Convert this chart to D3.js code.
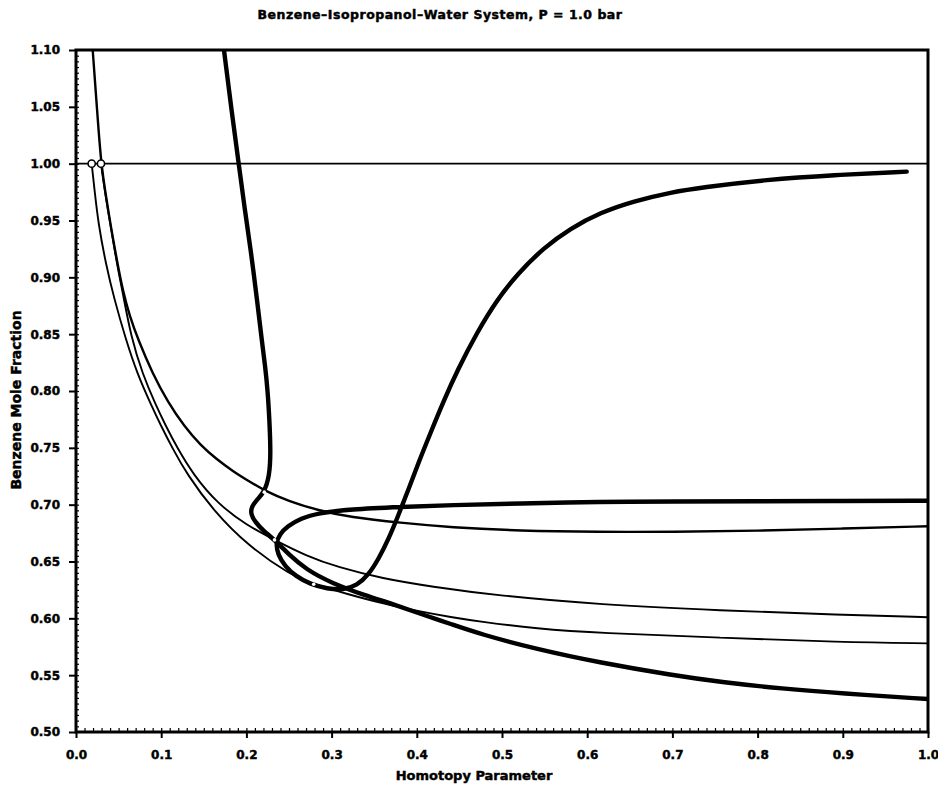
<!DOCTYPE html>
<html>
<head>
<meta charset="utf-8">
<script src="https://cdn.jsdelivr.net/npm/d3@7/dist/d3.min.js"></script>
<style>
  body { margin: 0; background: #fff; }
  svg { display: block; }
  text { font-family: "DejaVu Sans", "Liberation Sans", Arial, sans-serif; font-weight: bold; fill: #000; stroke: #000; stroke-width: 0.45px; }
</style>
</head>
<body>
<svg id="chart" width="938" height="788"></svg>
<script>
// ---- Text ----
const chartTitle = "Benzene\u2013Isopropanol\u2013Water System, P = 1.0 bar";
const xAxisTitle = "Homotopy Parameter";
const yAxisTitle = "Benzene Mole Fraction";

// ---- Axis ticks ----
const xTickValues = [0.0, 0.1, 0.2, 0.3, 0.4, 0.5, 0.6, 0.7, 0.8, 0.9, 1.0];
const xTickLabels = ["0.0", "0.1", "0.2", "0.3", "0.4", "0.5", "0.6", "0.7", "0.8", "0.9", "1.0"];
const yTickValues = [0.50, 0.55, 0.60, 0.65, 0.70, 0.75, 0.80, 0.85, 0.90, 0.95, 1.00, 1.05, 1.10];
const yTickLabels = ["0.50", "0.55", "0.60", "0.65", "0.70", "0.75", "0.80", "0.85", "0.90", "0.95", "1.00", "1.05", "1.10"];

// ---- Homotopy paths: [homotopy parameter, benzene mole fraction] ----
// pure benzene branch
const pureBenzene = [[0.0, 1.00], [1.0, 1.00]];

// branch entering from above, through the second bifurcation point, ending near 0.68
const branchUpper = [
  [0.0196, 1.10], [0.0245, 1.05], [0.0293, 1.00], [0.0355, 0.970], [0.041, 0.944],
  [0.048, 0.915], [0.055, 0.888], [0.063, 0.866], [0.073, 0.845], [0.090, 0.815],
  [0.108, 0.790], [0.127, 0.769], [0.1465, 0.752], [0.165, 0.740], [0.185, 0.729],
  [0.200, 0.722], [0.222, 0.712], [0.250, 0.703], [0.284, 0.695], [0.322, 0.689],
  [0.381, 0.684], [0.440, 0.680], [0.520, 0.677], [0.615, 0.676], [0.700, 0.676],
  [0.800, 0.677], [0.900, 0.679], [1.000, 0.681]
];

// branch leaving the second bifurcation point, ending near 0.60
const branchInner = [
  [0.0293, 1.00], [0.035, 0.970], [0.041, 0.944], [0.048, 0.912], [0.055, 0.886],
  [0.0645, 0.848], [0.078, 0.815], [0.094, 0.787], [0.105, 0.770], [0.118, 0.751],
  [0.138, 0.726], [0.166, 0.701], [0.200, 0.682], [0.233, 0.669], [0.270, 0.655],
  [0.307, 0.645], [0.360, 0.635], [0.416, 0.628], [0.495, 0.620], [0.615, 0.612],
  [0.756, 0.607], [0.897, 0.603], [1.000, 0.601]
];

// branch leaving the first bifurcation point, ending near 0.58
const branchOuter = [
  [0.0184, 1.00], [0.022, 0.975], [0.0265, 0.946], [0.035, 0.912], [0.0445, 0.882],
  [0.0586, 0.845], [0.072, 0.815], [0.088, 0.788], [0.100, 0.769], [0.113, 0.750],
  [0.130, 0.727], [0.162, 0.694], [0.2016, 0.664], [0.252, 0.638], [0.279, 0.630],
  [0.320, 0.621], [0.360, 0.613], [0.404, 0.606], [0.440, 0.601], [0.475, 0.597],
  [0.540, 0.591], [0.615, 0.587], [0.756, 0.583], [0.897, 0.579], [1.000, 0.578]
];

// steep branch from above, turning at about 0.70 and ending near 0.53
const branchSteep = [
  [0.1737, 1.10], [0.182, 1.05], [0.191, 1.00], [0.198, 0.960], [0.205, 0.925],
  [0.2135, 0.874], [0.218, 0.845], [0.222, 0.822], [0.225, 0.800], [0.227, 0.775],
  [0.2286, 0.745], [0.227, 0.725], [0.221, 0.711], [0.212, 0.704], [0.206, 0.698],
  [0.205, 0.692], [0.210, 0.685], [0.220, 0.677], [0.233, 0.669], [0.250, 0.656],
  [0.270, 0.643], [0.300, 0.631], [0.340, 0.620], [0.370, 0.613], [0.404, 0.604],
  [0.440, 0.595], [0.475, 0.586], [0.540, 0.573], [0.615, 0.561], [0.700, 0.550],
  [0.756, 0.544], [0.830, 0.538], [0.897, 0.534], [1.000, 0.529]
];

// branch from 0.70 at the right, round the turn near 0.23, up towards pure benzene
const branchLoop = [
  [1.000, 0.7035], [0.900, 0.7032], [0.800, 0.7030], [0.700, 0.7028], [0.615, 0.7025],
  [0.520, 0.7010], [0.440, 0.6997], [0.381, 0.698], [0.322, 0.696], [0.284, 0.6926],
  [0.264, 0.688], [0.248, 0.681], [0.239, 0.674], [0.2345, 0.666], [0.237, 0.656],
  [0.245, 0.646], [0.258, 0.637], [0.275, 0.630], [0.295, 0.626], [0.314, 0.625],
  [0.330, 0.629], [0.343, 0.638], [0.355, 0.652], [0.367, 0.670], [0.378, 0.690],
  [0.390, 0.713], [0.402, 0.737], [0.416, 0.763], [0.432, 0.792], [0.4475, 0.818],
  [0.471, 0.852], [0.494, 0.880], [0.518, 0.903], [0.549, 0.926], [0.580, 0.943],
  [0.6155, 0.957], [0.654, 0.967], [0.700, 0.975], [0.733, 0.979], [0.811, 0.986],
  [0.889, 0.990], [0.975, 0.993]
];

// bifurcation points on the pure benzene branch
const bifurcationPoints = [[0.0184, 1.00], [0.0293, 1.00]];
// turning / junction points along the paths
const junctionPoints = [[0.221, 0.711], [0.233, 0.669], [0.279, 0.630]];

// ---- Layout ----
const svg = d3.select("#chart");
const plot = { left: 76, right: 928, top: 50, bottom: 732 };

const x = d3.scaleLinear().domain([0, 1]).range([plot.left, plot.right]);
const y = d3.scaleLinear().domain([0.5, 1.1]).range([plot.bottom, plot.top]);

svg.append("defs").append("clipPath").attr("id", "plot-clip")
  .append("rect")
  .attr("x", plot.left).attr("y", plot.top)
  .attr("width", plot.right - plot.left).attr("height", plot.bottom - plot.top);

// ---- Paths ----
const line = d3.line()
  .x(d => x(d[0]))
  .y(d => y(d[1]))
  .curve(d3.curveBasis);

const paths = [
  { data: pureBenzene, width: 1.6 },
  { data: branchOuter, width: 1.9 },
  { data: branchInner, width: 1.9 },
  { data: branchUpper, width: 2.4 },
  { data: branchSteep, width: 4.4 },
  { data: branchLoop, width: 4.4 }
];

const g = svg.append("g").attr("clip-path", "url(#plot-clip)");
g.selectAll("path.branch")
  .data(paths)
  .join("path")
  .attr("class", "branch")
  .attr("d", d => line(d.data))
  .attr("fill", "none")
  .attr("stroke", "#000")
  .attr("stroke-width", d => d.width)
  .attr("stroke-linejoin", "round")
  .attr("stroke-linecap", "round");

g.selectAll("circle.junction")
  .data(junctionPoints)
  .join("circle")
  .attr("class", "junction")
  .attr("cx", d => x(d[0]))
  .attr("cy", d => y(d[1]))
  .attr("r", 1.8)
  .attr("fill", "#fff");

svg.selectAll("circle.bif")
  .data(bifurcationPoints)
  .join("circle")
  .attr("class", "bif")
  .attr("cx", d => x(d[0]))
  .attr("cy", d => y(d[1]))
  .attr("r", 3.6)
  .attr("fill", "#fff")
  .attr("stroke", "#000")
  .attr("stroke-width", 1.6);

// ---- Axes ----
// minor ticks (inside)
const xMinor = d3.range(0, 101).map(i => i / 100);
const yMinor = d3.range(0, 121).map(i => 0.5 + i * 0.005);

svg.append("g")
  .attr("transform", `translate(0,${plot.bottom})`)
  .call(d3.axisTop(x).tickValues(xMinor).tickSize(4).tickFormat(""))
  .call(a => a.select(".domain").remove())
  .call(a => a.selectAll("line").attr("stroke-width", 1.2));

svg.append("g")
  .attr("transform", `translate(${plot.left},0)`)
  .call(d3.axisRight(y).tickValues(yMinor).tickSize(3).tickFormat(""))
  .call(a => a.select(".domain").remove())
  .call(a => a.selectAll("line").attr("stroke-width", 1.2));

// major ticks (outside) with labels
const xAxis = svg.append("g")
  .attr("transform", `translate(0,${plot.bottom})`)
  .call(d3.axisBottom(x).tickValues(xTickValues).tickSize(6).tickPadding(12)
    .tickFormat((d, i) => xTickLabels[i]));
xAxis.select(".domain").remove();
xAxis.selectAll("line").attr("stroke-width", 2);
xAxis.selectAll("text").attr("font-size", 12).attr("font-family", null)
  .style("font-weight", "bold");

const yAxis = svg.append("g")
  .attr("transform", `translate(${plot.left},0)`)
  .call(d3.axisLeft(y).tickValues(yTickValues).tickSize(7).tickPadding(9)
    .tickFormat((d, i) => yTickLabels[i]));
yAxis.select(".domain").remove();
yAxis.selectAll("line").attr("stroke-width", 2);
yAxis.selectAll("text").attr("font-size", 12).attr("font-family", null)
  .style("font-weight", "bold");

// frame
svg.append("rect")
  .attr("x", plot.left).attr("y", plot.top)
  .attr("width", plot.right - plot.left).attr("height", plot.bottom - plot.top)
  .attr("fill", "none").attr("stroke", "#000").attr("stroke-width", 3);

// ---- Titles ----
svg.append("text")
  .attr("x", 440).attr("y", 19)
  .attr("text-anchor", "middle")
  .attr("font-size", 12.5)
  .attr("letter-spacing", 0.5)
  .text(chartTitle);

svg.append("text")
  .attr("x", 474).attr("y", 780)
  .attr("text-anchor", "middle")
  .attr("font-size", 13)
  .text(xAxisTitle);

svg.append("text")
  .attr("transform", "translate(21,400) rotate(-90)")
  .attr("text-anchor", "middle")
  .attr("font-size", 14)
  .text(yAxisTitle);
</script>
</body>
</html>
